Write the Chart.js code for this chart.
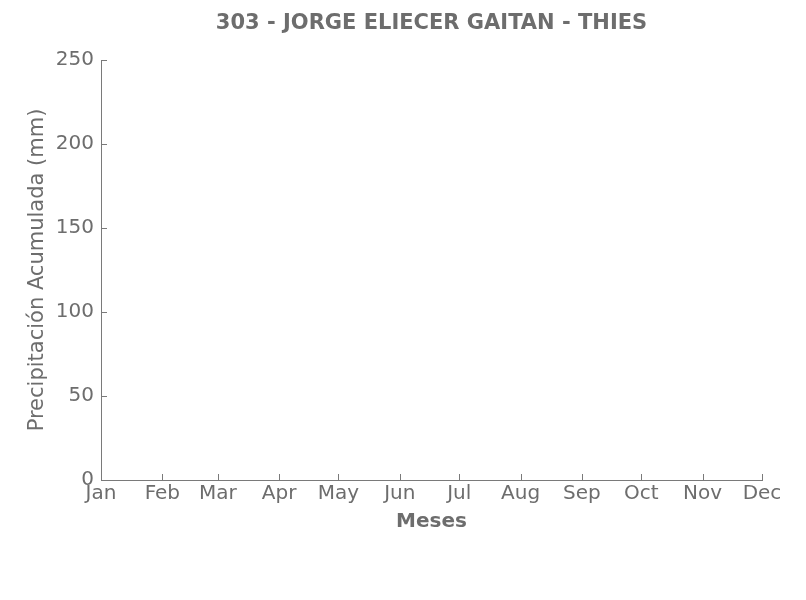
<!DOCTYPE html>
<html>
<head>
<meta charset="utf-8">
<script src="https://cdn.jsdelivr.net/npm/chart.js@4.4.1/dist/chart.umd.min.js"></script>
<style>
  html, body { margin: 0; padding: 0; background: #ffffff; }
  #wrap { width: 806px; height: 600px; }
</style>
</head>
<body>
<div id="wrap"><canvas id="c" width="806" height="600"></canvas></div>
<script>
// Month labels and their day-of-year positions (time-like x axis)
const monthLabels = ['Jan','Feb','Mar','Apr','May','Jun','Jul','Aug','Sep','Oct','Nov','Dec'];
const monthStartDays = [0, 31, 59, 90, 120, 151, 181, 212, 243, 273, 304, 334];
// Y tick values
const yTicks = [0, 50, 100, 150, 200, 250];
// Series values: the reference shows no plotted data
const precipitationDays = [];
const precipitationValues = [];

const TEXT = '#6d6d6d';
const LINE = '#7a7a7a';
const FONT = 'DejaVu Sans';

const inwardTicks = {
  id: 'inwardTicks',
  afterDraw(chart) {
    const ctx = chart.ctx;
    const xs = chart.scales.x, ys = chart.scales.y;
    const L = 6;
    ctx.save();
    ctx.strokeStyle = LINE;
    ctx.lineWidth = 1;
    ctx.beginPath();
    xs.ticks.forEach(t => {
      const px = Math.round(xs.getPixelForValue(t.value)) + 0.5;
      ctx.moveTo(px, ys.bottom);
      ctx.lineTo(px, ys.bottom - L);
    });
    ys.ticks.forEach(t => {
      const py = Math.round(ys.getPixelForValue(t.value)) + 0.5;
      ctx.moveTo(xs.left, py);
      ctx.lineTo(xs.left + L, py);
    });
    ctx.stroke();
    ctx.restore();
  }
};

new Chart(document.getElementById('c'), {
  type: 'line',
  data: {
    datasets: [{
      label: 'Precipitación',
      data: precipitationDays.map((d, i) => ({ x: d, y: precipitationValues[i] })),
      borderColor: '#1f77b4',
      pointRadius: 0
    }]
  },
  options: {
    responsive: false,
    animation: false,
    layout: { padding: { left: 0, right: 44, top: 0, bottom: 66 } },
    plugins: {
      legend: { display: false },
      tooltip: { enabled: false },
      title: {
        display: true,
        fullSize: false,
        text: '303 - JORGE ELIECER GAITAN - THIES',
        color: TEXT,
        font: { family: FONT, size: 21, weight: 'bold' },
        padding: { top: 11, bottom: 23.8 }
      }
    },
    scales: {
      x: {
        type: 'linear',
        min: monthStartDays[0],
        max: monthStartDays[monthStartDays.length - 1],
        afterBuildTicks(scale) {
          scale.ticks = monthStartDays.map(v => ({ value: v }));
        },
        afterFit(scale) { scale.height = 54; },
        grid: { display: false, drawTicks: false },
        border: { display: true, color: LINE, width: 1 },
        ticks: {
          color: TEXT,
          font: { family: FONT, size: 20 },
          padding: 2,
          maxRotation: 0,
          autoSkip: false,
          callback(v) {
            const i = monthStartDays.indexOf(v);
            return i >= 0 ? monthLabels[i] : '';
          }
        },
        title: {
          display: true,
          text: 'Meses',
          color: TEXT,
          font: { family: FONT, size: 20, weight: 'bold' },
          padding: { top: 2, bottom: 0 }
        }
      },
      y: {
        type: 'linear',
        min: 0,
        max: 250,
        afterBuildTicks(scale) {
          scale.ticks = yTicks.map(v => ({ value: v }));
        },
        afterFit(scale) { scale.width = 101; },
        grid: { display: false, drawTicks: false },
        border: { display: true, color: LINE, width: 1 },
        ticks: {
          color: TEXT,
          font: { family: FONT, size: 20 },
          padding: 7
        },
        title: {
          display: true,
          text: 'Precipitación Acumulada (mm)',
          color: TEXT,
          font: { family: FONT, size: 21 },
          padding: { top: 25, bottom: 0 }
        }
      }
    }
  },
  plugins: [inwardTicks]
});
</script>
</body>
</html>
